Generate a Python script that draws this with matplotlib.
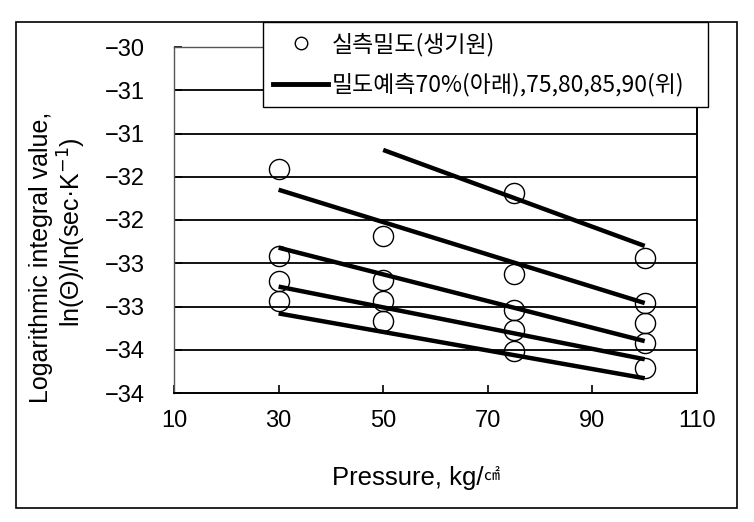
import matplotlib
matplotlib.use("Agg")
import matplotlib.pyplot as plt
from matplotlib.lines import Line2D
from matplotlib.patches import Rectangle

plt.rcParams['font.family'] = ['Liberation Sans', 'Noto Sans CJK KR', 'DejaVu Sans']

# measured density (circles)
meas_x = [30, 30, 30, 30,
          50, 50, 50, 50,
          75, 75, 75, 75, 75,
          100, 100, 100, 100, 100]
meas_y = [-31.41, -32.42, -32.71, -32.94,
          -32.19, -32.69, -32.94, -33.17,
          -31.69, -32.62, -33.04, -33.27, -33.52,
          -32.44, -32.96, -33.19, -33.42, -33.71]

# predicted lines 70% (bottom) ... 90% (top)
pred_x = {70: [30, 100], 75: [30, 100], 80: [30, 100], 85: [30, 100], 90: [50, 100]}
pred_y = {70: [-33.08, -33.83], 75: [-32.77, -33.61], 80: [-32.32, -33.40],
          85: [-31.65, -32.96], 90: [-31.19, -32.30]}

x_ticks = [10, 30, 50, 70, 90, 110]
y_ticks = [-34, -33.5, -33, -32.5, -32, -31.5, -31, -30.5, -30]
y_labels = ['−34', '−34', '−33', '−33', '−32', '−32', '−31', '−31', '−30']

W, H = 754, 522
fig = plt.figure(figsize=(W / 100, H / 100), dpi=100)
ax = fig.add_axes([174 / W, 1 - 393 / H, (697 - 174) / W, (393 - 47) / H])

for y in y_ticks[1:-1]:
    ax.axhline(y, color='black', lw=1.3, zorder=1)

for k in pred_x:
    ax.plot(pred_x[k], pred_y[k], color='black', lw=3.2, solid_capstyle='butt', zorder=3)

ax.plot(meas_x, meas_y, 'o', ms=14.5, mfc='none', mec='black', mew=1.0, zorder=4, clip_on=False)

ax.set_xlim(10, 110)
ax.set_ylim(-34, -30)
ax.set_xticks(x_ticks)
ax.set_yticks(y_ticks)
ax.set_yticklabels(y_labels)
ax.tick_params(direction='in', length=6, width=1.2, labelsize=17, colors='black')
ax.tick_params(axis='x', pad=12)
ax.tick_params(axis='y', pad=21)

for s in ['left', 'top']:
    ax.spines[s].set_color('#555555')
    ax.spines[s].set_linewidth(1.0)
for s in ['right', 'bottom']:
    ax.spines[s].set_color('black')
    ax.spines[s].set_linewidth(1.4)

# x label, the unit glyph is drawn small as in the original
fig.text(483 / W, 1 - 478 / H, 'Pressure, kg/', ha='right', va='center', fontsize=18.5)
fig.text(483 / W, 1 - 476 / H, '㎠', ha='left', va='center', fontsize=11.5,
         family=['Noto Sans CJK KR'])

# y label, two lines
fig.text(41 / W, 1 - 257 / H, 'Logarithmic integral value,', ha='center', va='center',
         rotation=90, fontsize=18)
fig.text(72 / W, 1 - 232 / H, 'ln(Θ)/ln(sec·K$^{-1}$)', ha='center', va='center',
         rotation=90, fontsize=18)

handles = [Line2D([], [], ls='none', marker='o', ms=9, mfc='none', mec='black', mew=1.0),
           Line2D([], [], color='black', lw=3.5)]
leg = fig.legend(handles, ['실측밀도(생기원)', '밀도예측70%(아래),75,80,85,90(위)'],
                 loc='upper left', bbox_to_anchor=(263 / W, 1 - 107 / H, 445 / W, 85 / H),
                 mode='expand', borderaxespad=0, fancybox=False, framealpha=1,
                 edgecolor='black', handlelength=2.4, handletextpad=0.15,
                 borderpad=0.45, labelspacing=0.75, prop={'family': ['Noto Sans CJK KR'], 'size': 16.5})
leg.get_frame().set_linewidth(1.0)
leg.set_zorder(10)

fig.patches.append(Rectangle((16 / W, 1 - 508 / H), (737 - 16) / W, (508 - 22) / H,
                             transform=fig.transFigure, fill=False, edgecolor='black', lw=1.2))

fig.savefig('out.png', dpi=100)
